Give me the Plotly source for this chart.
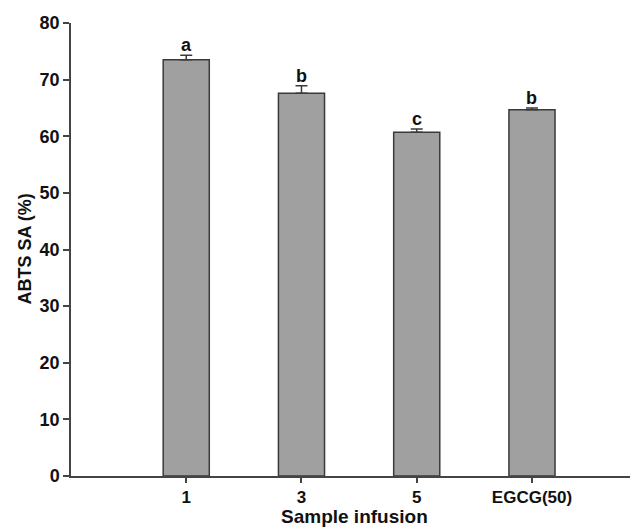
import plotly.graph_objects as go

categories = ["1", "3", "5", "EGCG(50)"]
values = [73.5, 67.6, 60.7, 64.7]
errors = [0.8, 1.3, 0.6, 0.3]
letters = ["a", "b", "c", "b"]
y_ticks = [0, 10, 20, 30, 40, 50, 60, 70, 80]

font_family = "Liberation Sans, Arial, sans-serif"
positions = list(range(len(categories)))

fig = go.Figure()
fig.add_trace(go.Bar(
    x=positions, y=values, width=0.4,
    marker=dict(color="#a0a0a0", line=dict(color="#3a3a3a", width=1.5)),
    error_y=dict(type="data", array=errors, arrayminus=[0]*len(errors), symmetric=False,
                 color="#3a3a3a", thickness=1.5, width=6),
))

for p, v, e, l in zip(positions, values, errors, letters):
    fig.add_annotation(x=p, y=v + e, text=f"<b>{l}</b>", showarrow=False,
                       yanchor="bottom", yshift=-2,
                       font=dict(family=font_family, size=18, color="#111"))

fig.add_annotation(xref="paper", yref="paper", x=0.5, y=0, yshift=-40,
                   text="<b>Sample infusion</b>", showarrow=False,
                   xanchor="center", yanchor="middle",
                   font=dict(family=font_family, size=19, color="#111"))
fig.add_annotation(xref="paper", yref="paper", x=0, xshift=-47, y=0.5,
                   text="<b>ABTS SA (%)</b>", showarrow=False, textangle=-90,
                   xanchor="center", yanchor="middle",
                   font=dict(family=font_family, size=18, color="#111"))

fig.update_layout(
    width=630, height=519,
    margin=dict(l=63, r=0, t=15, b=51),
    plot_bgcolor="white", paper_bgcolor="white",
    showlegend=False,
    font=dict(family=font_family, color="#111"),
)
fig.update_xaxes(
    range=[-1, 3.92], showline=True, linecolor="#444", linewidth=1.5,
    tickvals=positions, ticktext=[f"<b>{c}</b>" for c in categories],
    ticks="outside", ticklen=5, tickcolor="#444", tickwidth=1.5,
    tickfont=dict(size=17, family=font_family),
    showgrid=False, zeroline=False, automargin=False,
)
fig.update_yaxes(
    range=[0, 80], tickvals=y_ticks, ticktext=[f"<b>{t}</b>" for t in y_ticks],
    showline=True, linecolor="#444", linewidth=1.5,
    ticks="outside", ticklen=6, tickcolor="#444", tickwidth=1.5,
    tickfont=dict(size=18, family=font_family),
    showgrid=False, zeroline=False, automargin=False,
)

fig.write_html("out.html")
